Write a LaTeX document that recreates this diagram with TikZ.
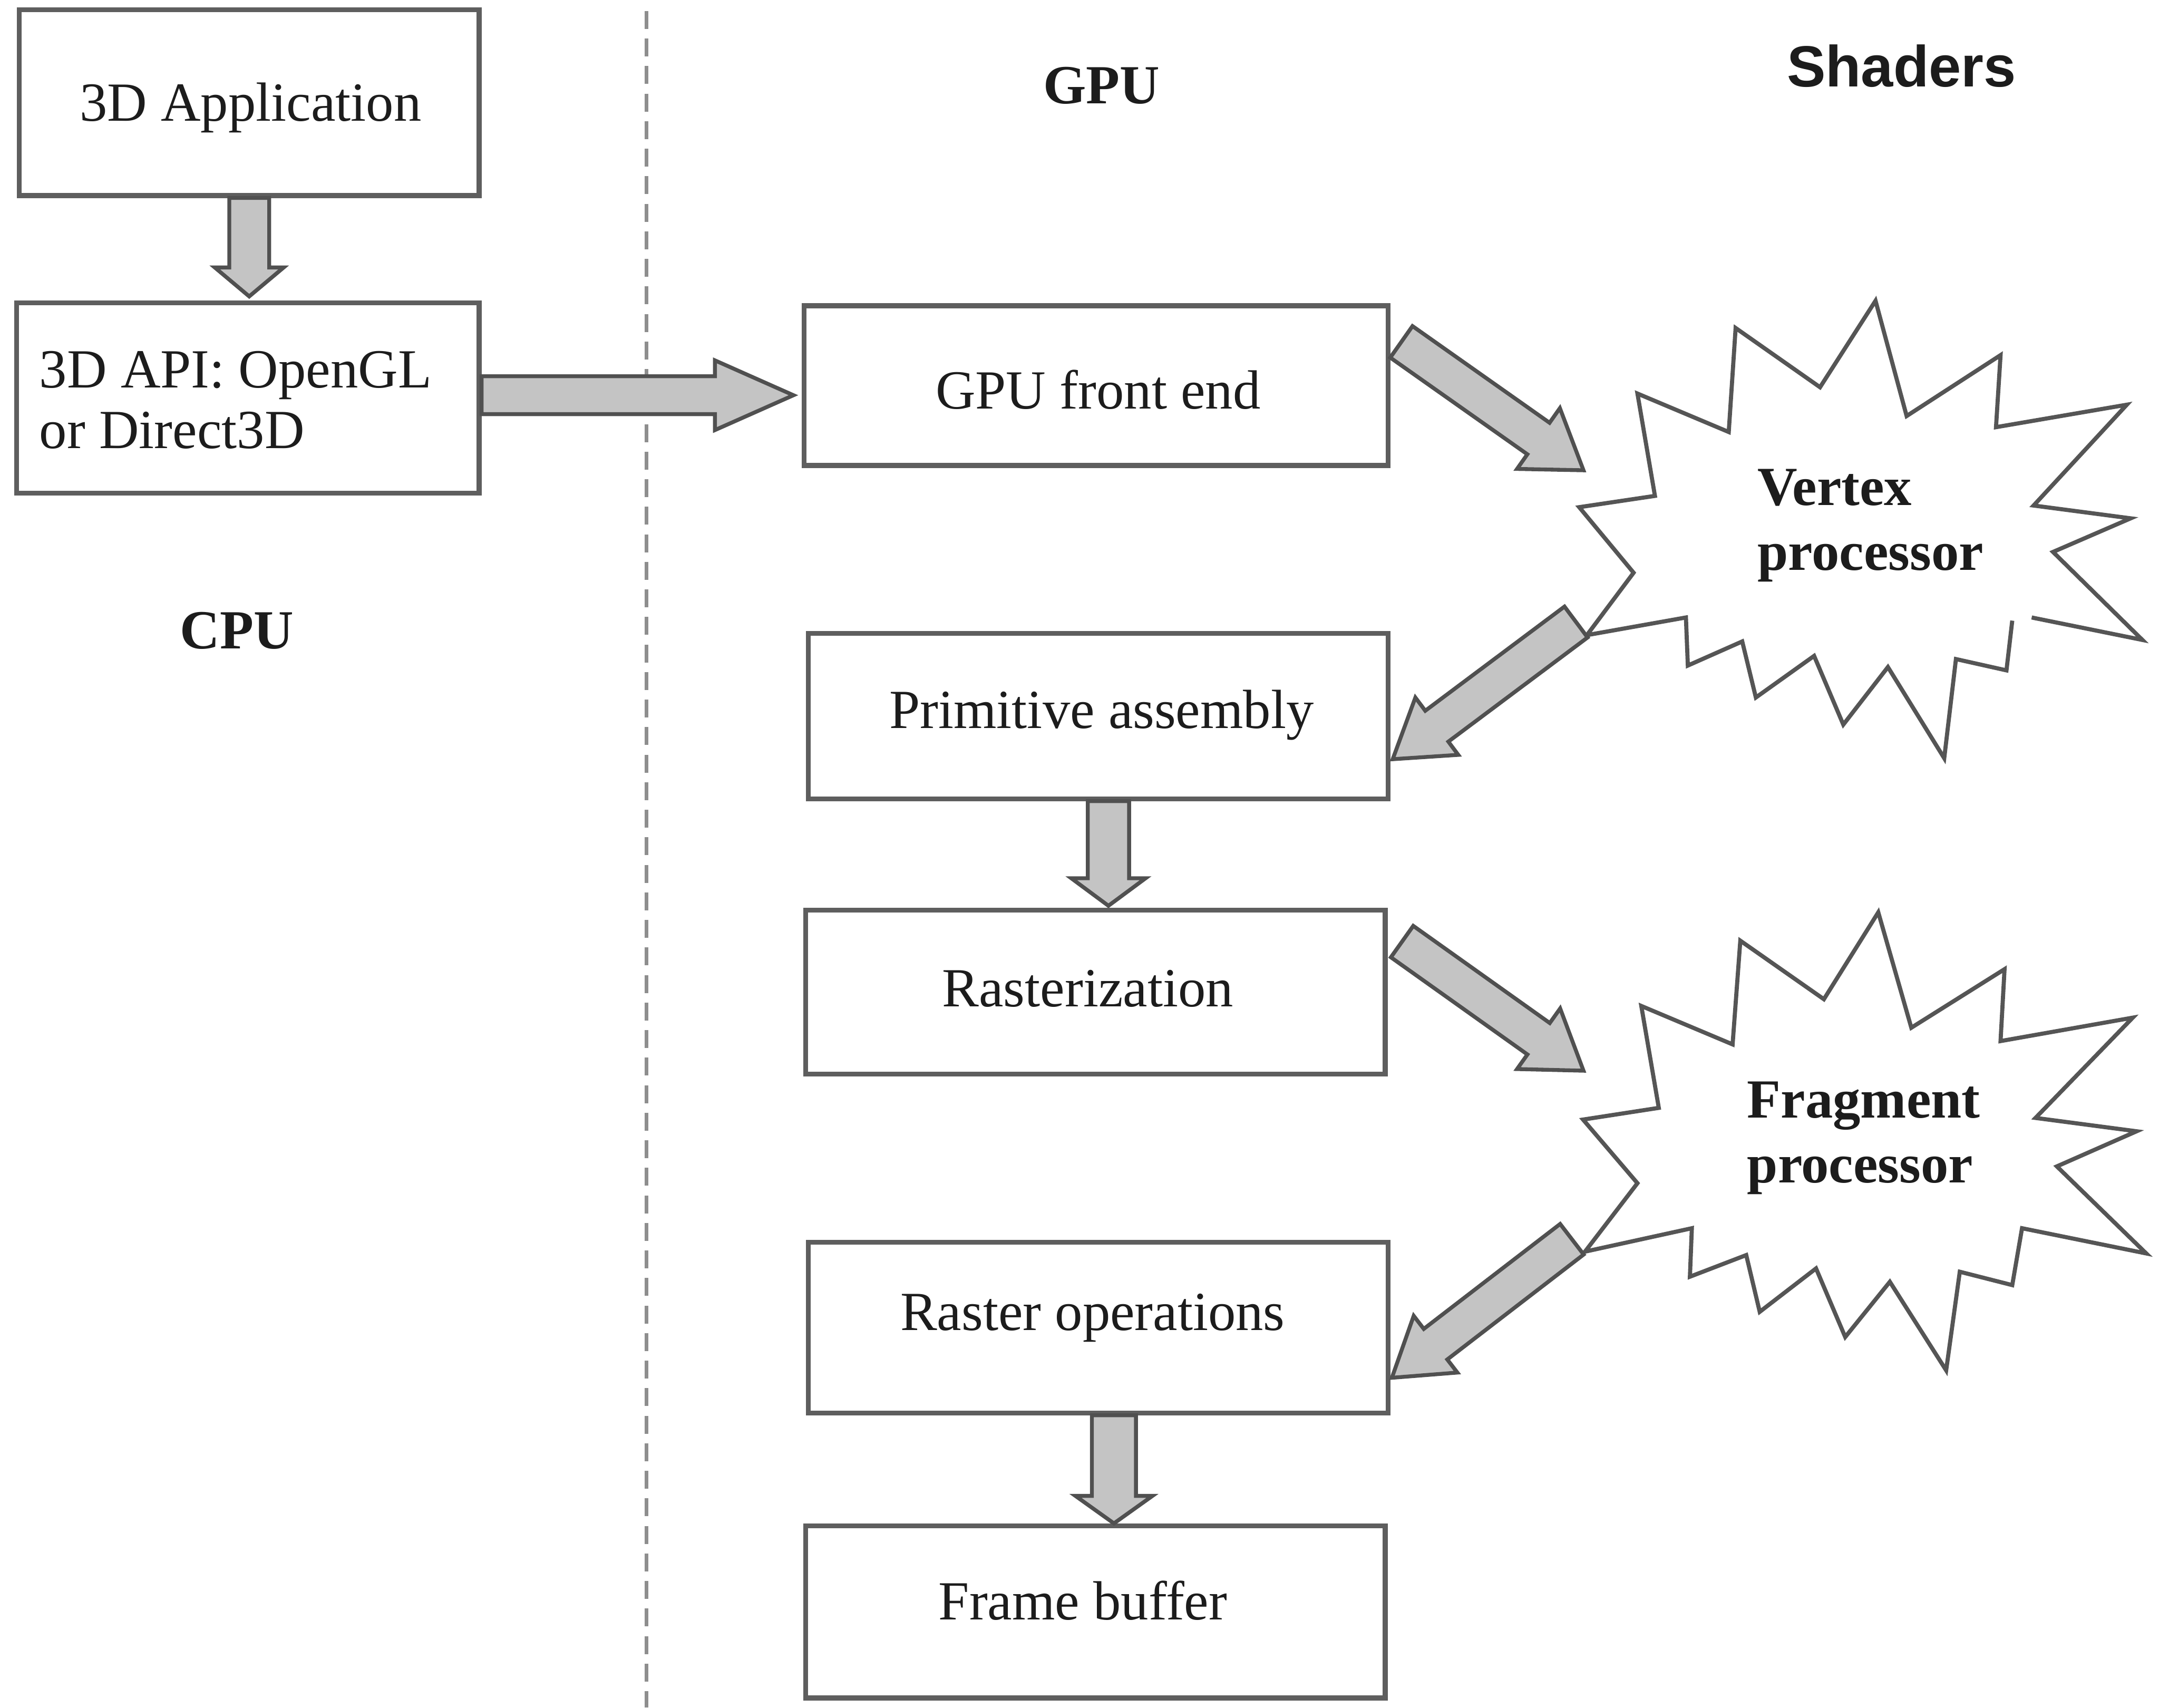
\documentclass[tikz,border=0pt]{standalone}
\usepackage{fontspec}
\setmainfont{Liberation Serif}
\newfontfamily\headsans{Liberation Sans}
\usetikzlibrary{calc}

\definecolor{boxline}{HTML}{5E5E5E}
\definecolor{arrowfill}{HTML}{C4C4C4}
\definecolor{arrowline}{HTML}{505050}
\definecolor{burstline}{HTML}{555555}
\definecolor{divider}{HTML}{8E8E8E}
\definecolor{ink}{HTML}{1C1C1C}

\tikzset{
  stage/.style n args={2}{draw=boxline, line width=1pt, fill=white,
    minimum width=#1, minimum height=#2, inner sep=0pt},
  stagetext/.style={inner sep=0pt, text=ink, font=\fontsize{11.4}{13}\selectfont,
    text height=0.28cm, text depth=0.08cm},
  heading/.style={inner sep=0pt, text=ink, font=\fontsize{11.4}{13}\selectfont\bfseries},
  shaderhead/.style={inner sep=0pt, text=ink, font=\headsans\fontsize{12}{14}\selectfont\bfseries},
  bursttext/.style={inner sep=0pt, text=ink, align=left,
    font=\fontsize{11.4}{13.4}\selectfont\bfseries},
  burst/.style={draw=burstline, line width=0.85pt, line join=miter},
  fatarrow/.style={draw=arrowline, fill=arrowfill, line width=0.8pt, line join=miter},
  divline/.style={draw=divider, line width=0.8pt, dash pattern=on 0.13cm off 0.07cm}
}

% block arrow: tail centre, tip, shaft half width, head half width, head length
\newcommand{\blockarrow}[5]{%
  \coordinate (ba-m) at ($(#2)!#5!(#1)$);
  \draw[fatarrow]
    ($(#1)!#3!90:(#2)$) --
    ($(ba-m)!#3!-90:(#1)$) --
    ($(ba-m)!#4!-90:(#1)$) --
    (#2) --
    ($(ba-m)!#4!90:(#1)$) --
    ($(ba-m)!#3!90:(#1)$) --
    ($(#1)!#3!-90:(#2)$) -- cycle;
}

\begin{document}
\begin{tikzpicture}
\useasboundingbox (0,0) rectangle (15.68,12.40);
\fill[white] (0,0) rectangle (15.68,12.40);

% CPU / GPU divider
\coordinate (divtop) at (4.696,12.32);
\coordinate (divbot) at (4.696,0);
\draw[divline] (divtop) -- (divbot);

% headings
\node[heading] (cpu) at (1.72,7.82) {CPU};
\node[heading] (gpu) at (8.00,11.78) {GPU};
\node[shaderhead] (shaders) at (13.81,11.92) {Shaders};

% pipeline boxes
\node[stage={3.34cm}{1.35cm}] (app) at (1.81,11.655) {};
\node[stage={3.36cm}{1.38cm}] (api) at (1.80,9.51) {};
\node[stage={4.24cm}{1.16cm}] (fe) at (7.96,9.60) {};
\node[stage={4.21cm}{1.20cm}] (pa) at (7.975,7.20) {};
\node[stage={4.21cm}{1.19cm}] (ra) at (7.955,5.195) {};
\node[stage={4.21cm}{1.24cm}] (ro) at (7.975,2.76) {};
\node[stage={4.21cm}{1.25cm}] (fb) at (7.955,0.695) {};

% box captions
\node[stagetext] (app-t) at (1.82,11.62) {3D Application};
\node[stagetext, align=left, anchor=west, text height=, text depth=] (api-t) at (0.28,9.495)
  {3D API: OpenGL\\[-0.5pt]or Direct3D};
\node[stagetext] (fe-t) at (7.975,9.53) {GPU front end};
\node[stagetext] (pa-t) at (8.00,7.21) {Primitive assembly};
\node[stagetext] (ra-t) at (7.90,5.19) {Rasterization};
\node[stagetext] (ro-t) at (7.935,2.84) {Raster operations};
\node[stagetext] (fb-t) at (7.865,0.74) {Frame buffer};

% shader captions
\node[bursttext] (vp) at (13.585,8.585) {Vertex\\processor};
\node[bursttext] (fp) at (13.535,4.135) {Fragment\\processor};

% vertex processor starburst (open at the lower right)
\draw[burst] (14.614,7.893) -- (14.572,7.532) -- (14.205,7.614) -- (14.120,6.894)
  -- (13.711,7.556) -- (13.387,7.138) -- (13.175,7.637) -- (12.752,7.335)
  -- (12.653,7.742) -- (12.258,7.567) -- (12.244,7.916) -- (11.525,7.788)
  -- (11.864,8.241) -- (11.469,8.717) -- (12.019,8.799) -- (11.892,9.542)
  -- (12.555,9.263) -- (12.605,10.018) -- (13.218,9.588) -- (13.621,10.216)
  -- (13.847,9.379) -- (14.529,9.821) -- (14.496,9.298) -- (15.446,9.461)
  -- (14.769,8.729) -- (15.474,8.636) -- (14.910,8.392) -- (15.559,7.753)
  -- (14.755,7.916);

% fragment processor starburst
\draw[burst] (13.641,5.775) -- (13.881,4.937) -- (14.558,5.362) -- (14.529,4.840)
  -- (15.489,5.010) -- (14.783,4.282) -- (15.517,4.185) -- (14.938,3.930)
  -- (15.587,3.298) -- (14.685,3.481) -- (14.614,3.068) -- (14.233,3.165)
  -- (14.134,2.449) -- (13.725,3.092) -- (13.401,2.691) -- (13.189,3.189)
  -- (12.780,2.874) -- (12.682,3.286) -- (12.273,3.129) -- (12.287,3.481)
  -- (11.511,3.311) -- (11.892,3.808) -- (11.497,4.270) -- (12.047,4.355)
  -- (11.920,5.095) -- (12.583,4.816) -- (12.639,5.569) -- (13.246,5.144)
  -- cycle;

% arrow end points
\coordinate (v1s) at (app.south);
\coordinate (v1e) at ($(app.south |- api.north)+(0,0.03)$);
\coordinate (h1s) at ($(api.east)+(0,0.02)$);
\coordinate (h1e) at ($(fe.west |- h1s)+(-0.06,0)$);
\coordinate (d1s) at ($(fe.north east)+(0.08,-0.28)$);
\coordinate (d1e) at ($(vp)+(-2.085,0.40)$);
\coordinate (d2s) at ($(vp)+(-2.139,-0.702)$);
\coordinate (d2e) at ($(pa.east)+(0.017,-0.313)$);
\coordinate (v2s) at ($(pa.south)+(0.075,0)$);
\coordinate (v2e) at ($(v2s |- ra.north)+(0,0.015)$);
\coordinate (d3s) at ($(ra.north east)+(0.105,-0.245)$);
\coordinate (d3e) at ($(fp)+(-2.035,0.49)$);
\coordinate (d4s) at ($(fp)+(-2.119,-0.734)$);
\coordinate (d4e) at ($(ro.east)+(0.011,-0.365)$);
\coordinate (v3s) at ($(ro.south)+(0.115,0)$);
\coordinate (v3e) at (v3s |- fb.north);

% block arrows
\blockarrow{v1s}{v1e}{0.145cm}{0.25cm}{0.21cm}
\blockarrow{h1s}{h1e}{0.1375cm}{0.253cm}{0.57cm}
\blockarrow{d1s}{d1e}{0.14cm}{0.27cm}{0.40cm}
\blockarrow{d2s}{d2e}{0.14cm}{0.26cm}{0.40cm}
\blockarrow{v2s}{v2e}{0.15cm}{0.27cm}{0.20cm}
\blockarrow{d3s}{d3e}{0.14cm}{0.27cm}{0.40cm}
\blockarrow{d4s}{d4e}{0.14cm}{0.26cm}{0.40cm}
\blockarrow{v3s}{v3e}{0.16cm}{0.28cm}{0.20cm}
\end{tikzpicture}
\end{document}
